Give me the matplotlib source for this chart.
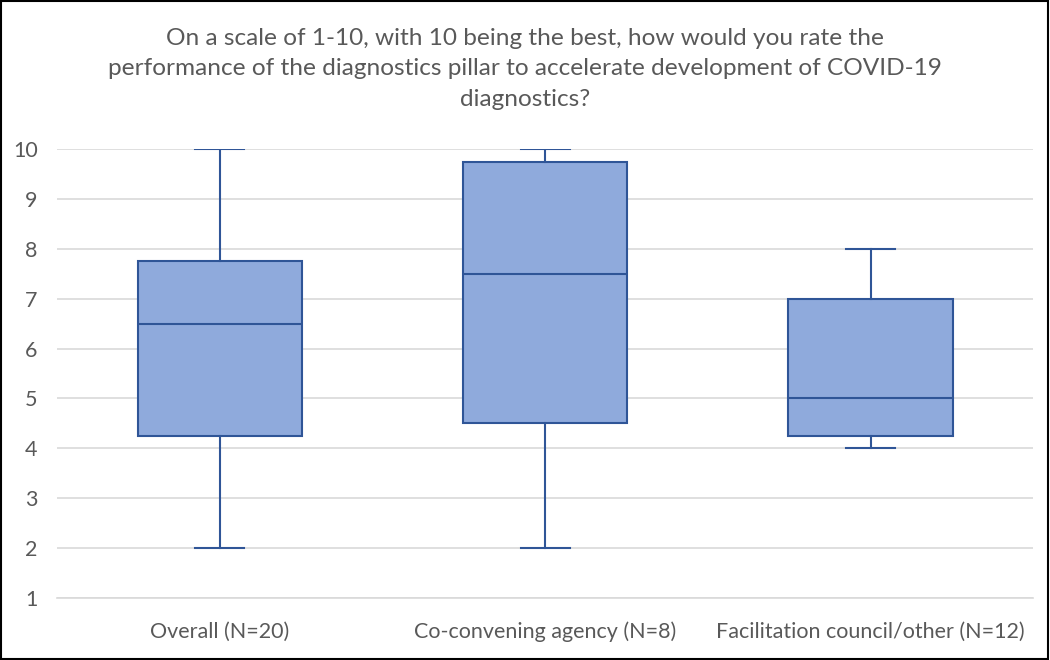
import matplotlib.pyplot as plt
from matplotlib.patches import Rectangle

categories = ['Overall (N=20)', 'Co-convening agency (N=8)', 'Facilitation council/other (N=12)']
mins = [2, 2, 4]
q1s = [4.25, 4.5, 4.25]
medians = [6.5, 7.5, 5]
q3s = [7.75, 9.75, 7]
maxs = [10, 10, 8]
yticks = list(range(1, 11))

title = ('On a scale of 1-10, with 10 being the best, how would you rate the\n'
         'performance of the diagnostics pillar to accelerate development of COVID-19\n'
         'diagnostics?')

plt.rcParams['font.family'] = ['Lato', 'DejaVu Sans']
text_color = '#595959'
edge = '#2F5597'
fill = '#8FAADC'

fig = plt.figure(figsize=(10.5, 6.6), dpi=100)
ax = fig.add_axes([0.0543, 0.0939, 0.9297, 0.6803])

stats = []
for lab, lo, a, m, b, hi in zip(categories, mins, q1s, medians, q3s, maxs):
    stats.append({'label': lab, 'whislo': lo, 'q1': a, 'med': m, 'q3': b, 'whishi': hi, 'fliers': []})

ax.bxp(stats, positions=[1, 2, 3], widths=0.505, patch_artist=True, showfliers=False,
       boxprops=dict(facecolor=fill, edgecolor=edge, linewidth=1.5),
       medianprops=dict(color=edge, linewidth=1.5),
       whiskerprops=dict(color=edge, linewidth=1.5),
       capprops=dict(color=edge, linewidth=1.5),
       capwidths=0.15, zorder=3)

ax.set_xlim(0.5, 3.5)
ax.set_ylim(1, 10)
ax.set_yticks(yticks)
ax.grid(axis='y', color='#D9D9D9', linewidth=1.2, zorder=0)
ax.set_axisbelow(True)
for s in ['top', 'right', 'left']:
    ax.spines[s].set_visible(False)
ax.spines['bottom'].set_color('#D9D9D9')
ax.spines['bottom'].set_linewidth(1.2)
ax.tick_params(axis='both', length=0, colors=text_color, labelsize=15.5)
ax.tick_params(axis='x', pad=17)
ax.tick_params(axis='y', pad=14)

fig.text(0.5, 0.896, title, ha='center', va='center', fontsize=17.6,
         color=text_color, linespacing=1.56)

fig.patches.append(Rectangle((0.001, 0.002), 0.997, 0.996, transform=fig.transFigure,
                             fill=False, edgecolor='black', linewidth=1.5))

fig.savefig('out.png', dpi=100)
